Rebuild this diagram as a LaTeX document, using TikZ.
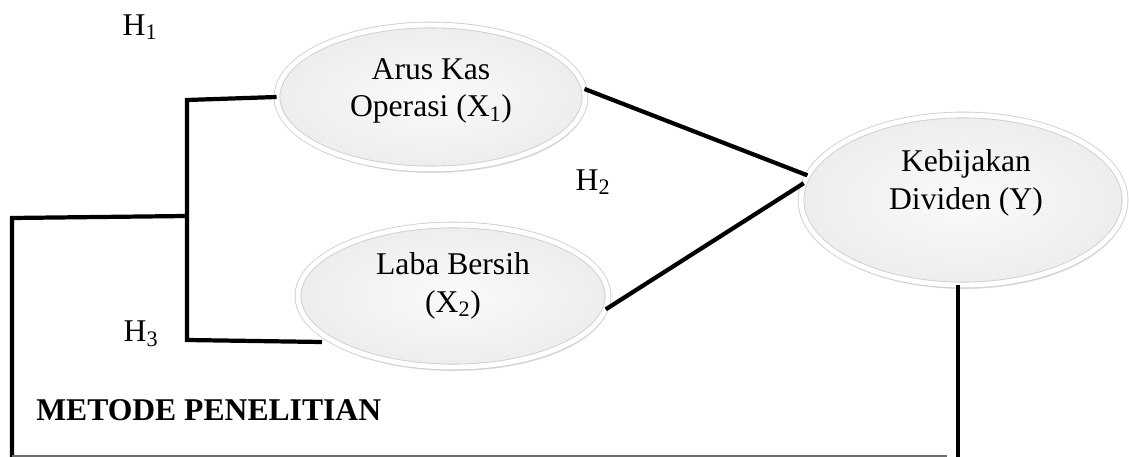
\documentclass[tikz,border=0pt]{standalone}
\usepackage{fontspec}
\setmainfont{Liberation Serif}
\usepackage{tikz}
\usetikzlibrary{shapes,positioning,shadows}
\usepackage{xcolor}
\definecolor{ovalin}{RGB}{250,250,250}
\definecolor{ovalout}{RGB}{237,237,237}
\definecolor{ovaledge}{RGB}{205,205,205}
\definecolor{rulegray}{RGB}{110,110,110}
\tikzstyle{oval} = [ellipse, draw=ovaledge, double=white, double distance=3.5pt, line width=0.6pt, inner color=ovalin, outer color=ovalout, drop shadow={shadow xshift=0.3mm, shadow yshift=-1mm, opacity=0.25}]
\tikzstyle{txt} = [align=center, font=\fontsize{22.5}{26.5}\selectfont]
\tikzstyle{hyp} = [font=\fontsize{22.5}{26.5}\selectfont]
\tikzstyle{link} = [line width=3pt, black]
\tikzstyle{rule} = [line width=0.8pt, color=rulegray]

\begin{document}
\begin{tikzpicture}[x=0.025cm, y=-0.025cm]
\useasboundingbox (0,0) rectangle (1129,457);

% Variable nodes
\node (x1) [oval, minimum width=7.7cm, minimum height=3.6cm] at (431,97) {};
\node (x2) [oval, minimum width=7.75cm, minimum height=3.55cm] at (453,296) {};
\node (y) [oval, minimum width=8.1cm, minimum height=4.25cm] at (963,200) {};

\node (x1txt) [txt] at (431,91) {Arus Kas\\Operasi (X\textsubscript{1})};
\node (x2txt) [txt] at (453,286) {Laba Bersih\\(X\textsubscript{2})};
\node (ytxt) [txt] at (966,183) {Kebijakan\\Dividen (Y)};

% Hypothesis labels
\node (h1) [hyp] at (140,27) {H\textsubscript{1}};
\node (h2) [hyp] at (593,182) {H\textsubscript{2}};
\node (h3) [hyp] at (141,334) {H\textsubscript{3}};
\node (metode) [hyp, anchor=west, inner sep=0pt, font=\fontsize{22.5}{26.5}\selectfont\bfseries] at (36,410) {METODE PENELITIAN};

% Bracket points
\coordinate (jtop) at (187,100);
\coordinate (jmid) at (187,216);
\coordinate (jbot) at (187,340);
\coordinate (x2in) at (322,342);
\coordinate (outtop) at (12,218);
\coordinate (outbot) at (12,460);
\coordinate (yout) at (958,460);
\coordinate (rulel) at (12,456);
\coordinate (ruler) at (947,456);

% Lines
\draw[link] (x1.west) -- (jtop) -- (jbot) -- (x2in);
\draw[link] (jmid) -- (outtop) -- (outbot);
\draw[link] (x1.3) -- (y.171);
\draw[link] (x2.-5) -- (y.174);
\draw[link] (y.south -| yout) -- (yout);
\draw[rule] (rulel) -- (ruler);
\end{tikzpicture}
\end{document}
